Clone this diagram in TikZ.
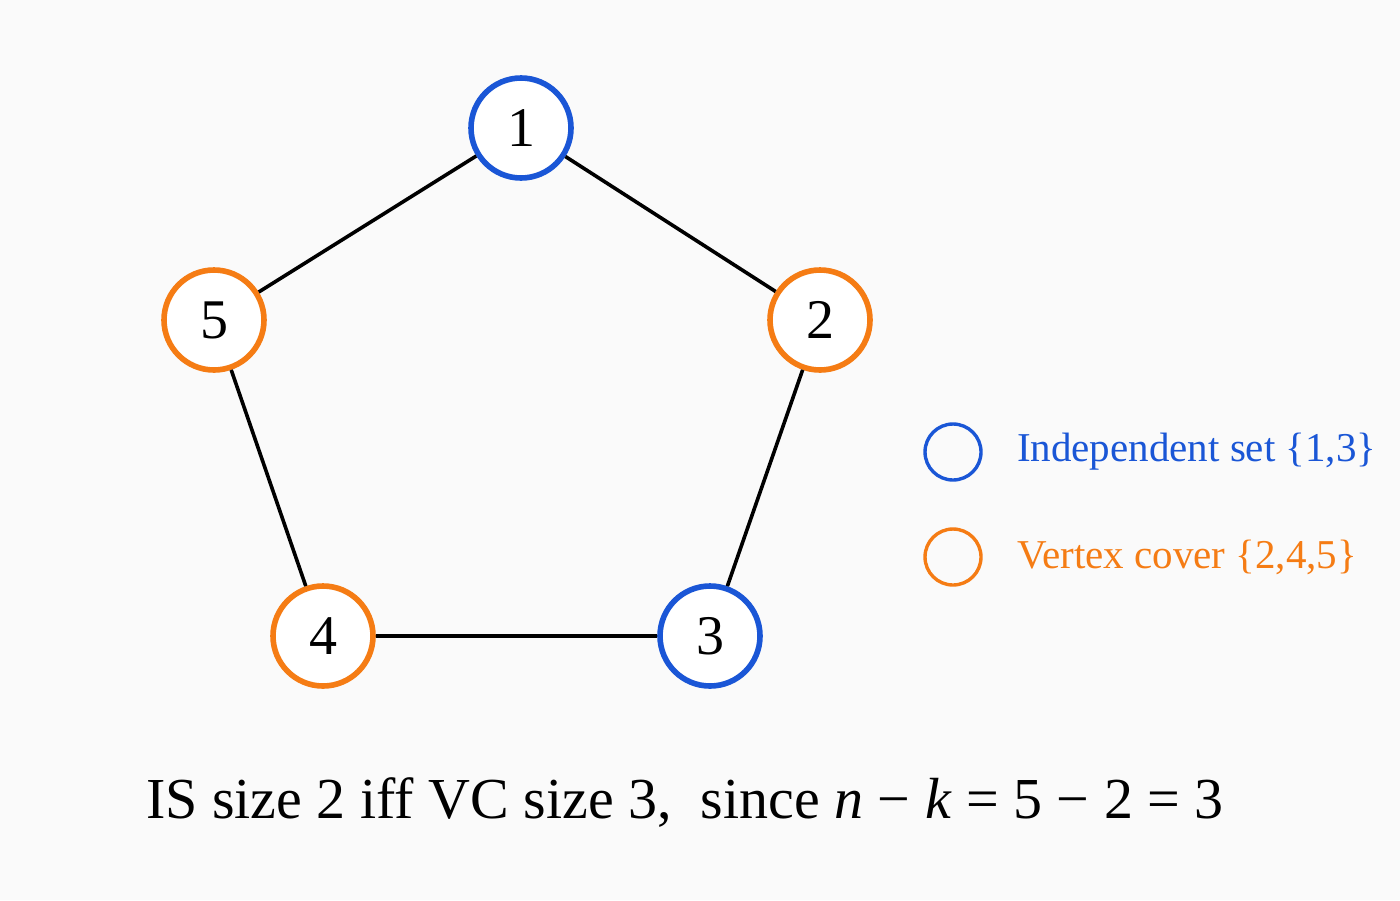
\documentclass[tikz,border=0pt]{standalone}
\usepackage{fontspec}
\setmainfont{Liberation Serif}
\definecolor{isblue}{HTML}{1A56D6}
\definecolor{vcorange}{HTML}{F57C14}
\definecolor{bg}{HTML}{FAFAFA}
\begin{document}
\begin{tikzpicture}[x=0.5pt,y=-0.5pt,
  v/.style={circle,line width=2.8pt,minimum size=50pt,inner sep=0pt,fill=white,font=\fontsize{28}{28}\selectfont},
  vb/.style={v,draw=isblue},
  vo/.style={v,draw=vcorange},
  lg/.style={circle,line width=1.7pt,minimum size=28pt,inner sep=0pt},
  e/.style={line width=1.8pt,black}]
\fill[bg] (0,0) rectangle (1400,900);
\useasboundingbox (0,0) rectangle (1400,900);
\node[vb] (n1) at (521,128) {1};
\node[vo] (n2) at (820,320) {2};
\node[vb] (n3) at (710,636) {3};
\node[vo] (n4) at (323,636) {4};
\node[vo] (n5) at (214,320) {5};
\draw[e] (n1)--(n2) (n2)--(n3) (n3)--(n4) (n4)--(n5) (n5)--(n1);
\node[lg,draw=isblue] (l1) at (953,452) {};
\node[lg,draw=vcorange] (l2) at (953,557) {};
\node[anchor=west,text=isblue,font=\fontsize{20.5}{20.5}\selectfont] (t1) at (1010,452) {Independent set \{1,3\}};
\node[anchor=west,text=vcorange,font=\fontsize{20.5}{20.5}\selectfont] (t2) at (1010,557) {Vertex cover \{2,4,5\}};
\node[font=\fontsize{29}{29}\selectfont] (cap) at (685,803) {IS size 2 iff VC size 3,\ \ since \textit{n} − \textit{k} = 5 − 2 = 3};
\end{tikzpicture}
\end{document}
